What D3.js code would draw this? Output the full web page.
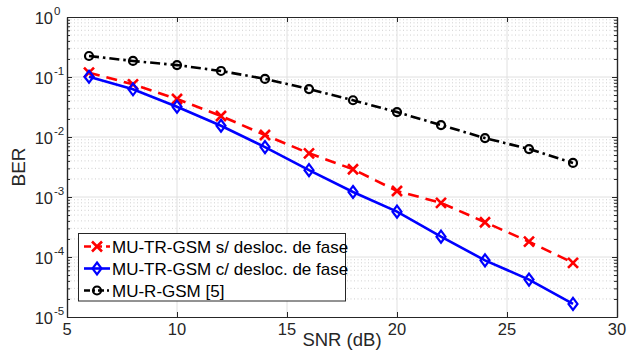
<!DOCTYPE html>
<html><head><meta charset="utf-8">
<script src="https://cdn.jsdelivr.net/npm/d3@7"></script>
<style>
body{margin:0;background:#fff;}
svg{display:block;font-family:"Liberation Sans",Arial,Helvetica,sans-serif;}
</style></head>
<body><svg id="c" width="628" height="356"></svg>
<script>
const snr = [6, 8, 10, 12, 14, 16, 18, 20, 22, 24, 26, 28];
const berSemDesloc = [0.118, 0.0755, 0.043, 0.0224, 0.0108, 0.00535, 0.0029, 0.00126, 0.0008, 0.00038, 0.00018, 0.00008];
const berComDesloc = [0.101, 0.0624, 0.032, 0.0154, 0.0068, 0.0028, 0.00121, 0.00057, 0.000218, 0.000088, 0.000042, 0.0000165];
const berRGSM = [0.224, 0.185, 0.158, 0.126, 0.093, 0.063, 0.041, 0.026, 0.0158, 0.0096, 0.0063, 0.0037];
const seriesNames = ["MU-TR-GSM s/ desloc. de fase", "MU-TR-GSM c/ desloc. de fase", "MU-R-GSM [5]"];
const xTicks = [5, 10, 15, 20, 25, 30];
const yExps = [0, -1, -2, -3, -4, -5];
const xLabel = "SNR (dB)";
const yLabel = "BER";

const svg = d3.select("#c");
const L = 67, R = 617, T = 17, B = 317;
const x = d3.scaleLinear().domain([5, 30]).range([L, R]);
const y = d3.scaleLog().domain([1e-5, 1]).range([B, T]);

const g = svg.append("g");
const minor = [];
for (let e = -5; e < 0; e++) for (let m = 2; m <= 9; m++) minor.push(m * Math.pow(10, e));
g.selectAll(".mg").data(minor).enter().append("line")
  .attr("x1", L).attr("x2", R).attr("y1", d => y(d)).attr("y2", d => y(d))
  .attr("stroke", "#c4c4c4").attr("stroke-width", 0.8).attr("stroke-dasharray", "1,2.5");
g.selectAll(".Mg").data(yExps.slice(1, 5)).enter().append("line")
  .attr("x1", L).attr("x2", R).attr("y1", d => y(Math.pow(10, d))).attr("y2", d => y(Math.pow(10, d)))
  .attr("stroke", "#e0e0e0").attr("stroke-width", 1);
g.selectAll(".Mgx").data(xTicks.slice(1, 5)).enter().append("line")
  .attr("y1", T).attr("y2", B).attr("x1", d => x(d)).attr("x2", d => x(d))
  .attr("stroke", "#e0e0e0").attr("stroke-width", 1);

const axB = d3.axisBottom(x).tickValues(xTicks).tickSizeInner(-5).tickSizeOuter(0).tickFormat("");
const axT = d3.axisTop(x).tickValues(xTicks).tickSizeInner(-5).tickSizeOuter(0).tickFormat("");
const yAll = yExps.map(e => Math.pow(10, e));
const axL = d3.axisLeft(y).tickValues(yAll).tickSizeInner(-5).tickSizeOuter(0).tickFormat("");
const axR = d3.axisRight(y).tickValues(yAll).tickSizeInner(-5).tickSizeOuter(0).tickFormat("");
const axLm = d3.axisLeft(y).tickValues(minor).tickSizeInner(-3).tickSizeOuter(0).tickFormat("");
const axRm = d3.axisRight(y).tickValues(minor).tickSizeInner(-3).tickSizeOuter(0).tickFormat("");
function styleAx(sel){sel.selectAll("path,line").attr("stroke","#262626");sel.select(".domain").attr("stroke-width",1.2);}
svg.append("g").attr("transform",`translate(0,${B})`).call(axB).call(styleAx);
svg.append("g").attr("transform",`translate(0,${T})`).call(axT).call(styleAx);
svg.append("g").attr("transform",`translate(${L},0)`).call(axL).call(styleAx);
svg.append("g").attr("transform",`translate(${R},0)`).call(axR).call(styleAx);
svg.append("g").attr("transform",`translate(${L},0)`).call(axLm).call(styleAx);
svg.append("g").attr("transform",`translate(${R},0)`).call(axRm).call(styleAx);

svg.selectAll(".xl").data(xTicks).enter().append("text")
  .attr("x", d => x(d)).attr("y", B + 18).attr("text-anchor", "middle")
  .attr("font-size", 16.5).attr("fill", "#262626").text(d => d);
svg.selectAll(".yl").data(yExps).enter().append("text")
  .attr("x", L - 14).attr("y", d => y(Math.pow(10, d)) + 7).attr("text-anchor", "end")
  .attr("font-size", 16.5).attr("fill", "#262626").text("10");
svg.selectAll(".ye").data(yExps).enter().append("text")
  .attr("x", L - 13).attr("y", d => y(Math.pow(10, d)) - 2).attr("text-anchor", "start")
  .attr("font-size", 11.5).attr("fill", "#262626").text(d => d);

svg.append("text").attr("x", (L + R) / 2).attr("y", 345.5).attr("text-anchor", "middle")
  .attr("font-size", 18.5).attr("fill", "#262626").text(xLabel);
svg.append("text").attr("transform", `translate(25,${(T + B) / 2}) rotate(-90)`).attr("text-anchor", "middle")
  .attr("font-size", 19).attr("fill", "#262626").text(yLabel);

const series = [
  {name: seriesNames[0], vals: berSemDesloc, color: "#ff0000", dash: "11,7", ldash: "7,4", marker: "x"},
  {name: seriesNames[1], vals: berComDesloc, color: "#0000ff", dash: null, ldash: null, marker: "d"},
  {name: seriesNames[2], vals: berRGSM, color: "#000000", dash: "10,4,2.5,4", ldash: "6,3,2,3", marker: "o"}
];
const line = d3.line().x(d => x(d[0])).y(d => y(d[1]));
function drawMarker(sel, type, color){
  if (type === "x") {
    sel.append("path").attr("d", "M-5,-5L5,5M-5,5L5,-5").attr("stroke", color).attr("stroke-width", 2.6).attr("fill", "none");
  } else if (type === "d") {
    sel.append("path").attr("d", "M0,-6L4.5,0L0,6L-4.5,0Z").attr("stroke", color).attr("stroke-width", 2.2).attr("fill", "none");
  } else {
    sel.append("circle").attr("r", 4).attr("stroke", color).attr("stroke-width", 2.2).attr("fill", "none");
  }
}
series.forEach(s => {
  const pts = snr.map((v, i) => [v, s.vals[i]]);
  svg.append("path").datum(pts).attr("d", line).attr("fill", "none")
    .attr("stroke", s.color).attr("stroke-width", 2.6).attr("stroke-dasharray", s.dash);
  pts.forEach(p => {
    const m = svg.append("g").attr("transform", `translate(${x(p[0])},${y(p[1])})`);
    drawMarker(m, s.marker, s.color);
  });
});

const lg = svg.append("g");
lg.append("rect").attr("x", 78.5).attr("y", 233.5).attr("width", 267).attr("height", 67.5)
  .attr("fill", "#fff").attr("stroke", "#262626").attr("stroke-width", 1);
const rowsY = [246.5, 268.5, 290.5];
series.forEach((s, i) => {
  const yy = rowsY[i];
  lg.append("line").attr("x1", 84).attr("x2", 110).attr("y1", yy).attr("y2", yy)
    .attr("stroke", s.color).attr("stroke-width", 2.6).attr("stroke-dasharray", s.ldash);
  const m = lg.append("g").attr("transform", `translate(97,${yy})`);
  drawMarker(m, s.marker, s.color);
  lg.append("text").attr("x", 112).attr("y", yy + 6).attr("font-size", 17).attr("fill", "#000").text(s.name);
});
</script></body></html>
